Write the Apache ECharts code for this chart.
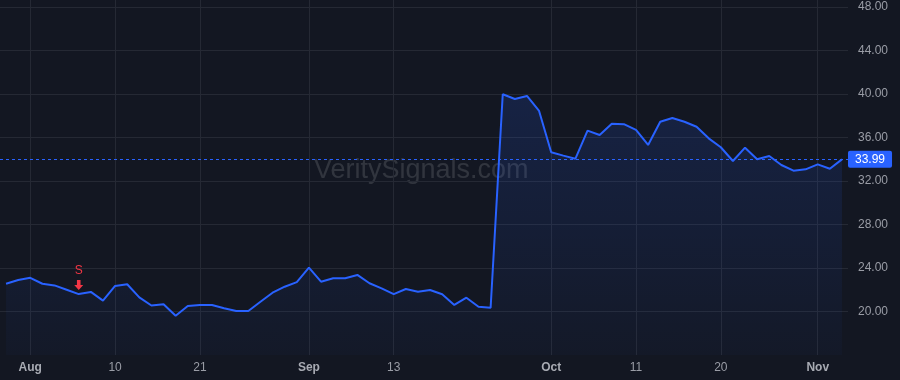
<!DOCTYPE html>
<html>
<head>
<meta charset="utf-8">
<script src="https://cdn.jsdelivr.net/npm/echarts@6/dist/echarts.min.js"></script>
<style>
  html, body { margin: 0; padding: 0; background: #131722; }
  #chart { width: 900px; height: 380px; }
</style>
</head>
<body>
<div id="chart"></div>
<script>
// ── Data ──
const dates = [
  '2023-07-28','2023-07-31',
  '2023-08-01','2023-08-02','2023-08-03','2023-08-04','2023-08-07','2023-08-08','2023-08-09','2023-08-10',
  '2023-08-11','2023-08-14','2023-08-15','2023-08-16','2023-08-17','2023-08-18','2023-08-21','2023-08-22',
  '2023-08-23','2023-08-24','2023-08-25','2023-08-28','2023-08-29','2023-08-30','2023-08-31',
  '2023-09-01','2023-09-05','2023-09-06','2023-09-07','2023-09-08','2023-09-11','2023-09-12','2023-09-13',
  '2023-09-14','2023-09-15','2023-09-18','2023-09-19','2023-09-20','2023-09-21','2023-09-22','2023-09-25',
  '2023-09-26','2023-09-27','2023-09-28','2023-09-29',
  '2023-10-02','2023-10-03','2023-10-04','2023-10-05','2023-10-06','2023-10-09','2023-10-10','2023-10-11',
  '2023-10-12','2023-10-13','2023-10-16','2023-10-17','2023-10-18','2023-10-19','2023-10-20','2023-10-23',
  '2023-10-24','2023-10-25','2023-10-26','2023-10-27','2023-10-30','2023-10-31',
  '2023-11-01','2023-11-02','2023-11-03'
];

const closes = [
  22.55, 22.90,
  23.10, 22.55, 22.40, 22.00, 21.60, 21.80, 21.00, 22.35,
  22.50, 21.30, 20.55, 20.66, 19.60, 20.50, 20.60, 20.60,
  20.30, 20.05, 20.05, 20.90, 21.73, 22.28, 22.70,
  24.03, 22.74, 23.05, 23.05, 23.36, 22.60, 22.13, 21.60,
  22.07, 21.82, 21.98, 21.58, 20.60, 21.27, 20.44, 20.35,
  39.97, 39.54, 39.82, 38.44,
  34.64, 34.33, 34.05, 36.63, 36.23, 37.27, 37.22, 36.69,
  35.31, 37.45, 37.79, 37.45, 36.99, 35.92, 35.10, 33.84,
  35.06, 33.99, 34.30, 33.47, 32.95, 33.07,
  33.53, 33.13, 33.99
];

const tickDates  = ['2023-08-01','2023-08-10','2023-08-21','2023-09-01','2023-09-13','2023-10-02','2023-10-11','2023-10-20','2023-11-01'];
const tickLabels = ['Aug','10','21','Sep','13','Oct','11','20','Nov'];
const monthTicks = ['Aug','Sep','Oct','Nov'];

const signalDates  = ['2023-08-07'];
const signalLabels = ['S'];

const lastPrice = 33.99;
const yTicks = { min: 16, max: 48.64, interval: 4 };

// ── Helpers ──
const tickIdx = new Set(tickDates.map(d => dates.indexOf(d)));
const tickLabelAt = {};
tickDates.forEach((d, i) => { tickLabelAt[d] = tickLabels[i]; });

const FONT = '"Liberation Sans", Arial, sans-serif';
const LINE = '#2962ff';
const GRID = '#252934';

const chart = echarts.init(document.getElementById('chart'), null, { renderer: 'canvas' });

const signalPoints = signalDates.map((d, i) => ({
  coord: [d, closes[dates.indexOf(d)]],
  label: { formatter: signalLabels[i] },
}));

const option = {
  backgroundColor: '#131722',
  animation: false,
  grid: { left: 0, right: 52, top: 0, bottom: 25 },
  // watermark
  graphic: [{
    type: 'text', left: 314, top: 157, z: 0,
    style: {
      text: 'VeritySignals.com', fill: 'rgba(255,255,255,0.13)',
      font: '27px ' + FONT,
    },
  }],
  xAxis: {
    type: 'category', data: dates, boundaryGap: true,
    axisLine: { show: false }, axisTick: { show: false, alignWithLabel: true },
    splitLine: {
      show: true, alignWithLabel: true,
      interval: (i) => tickIdx.has(i),
      lineStyle: { color: GRID, width: 1 },
    },
    axisLabel: {
      interval: (i) => tickIdx.has(i),
      margin: 7, fontSize: 12, fontFamily: FONT, color: '#9a9da6',
      formatter: (v) => {
        const t = tickLabelAt[v] || '';
        return monthTicks.includes(t) ? `{m|${t}}` : t;
      },
      rich: { m: { fontWeight: 'bold', fontSize: 12, fontFamily: FONT, color: '#a8abb3' } },
    },
  },
  yAxis: {
    type: 'value', position: 'right',
    min: yTicks.min, max: yTicks.max, interval: yTicks.interval,
    axisLine: { show: false }, axisTick: { show: false },
    splitLine: { show: true, showMinLine: false, showMaxLine: false, lineStyle: { color: GRID, width: 1 } },
    axisLabel: {
      showMinLabel: false, showMaxLabel: false,
      margin: 10, fontSize: 12, fontFamily: FONT, color: '#9a9da6',
      formatter: (v) => v.toFixed(2),
    },
  },
  series: [{
    type: 'line', data: closes, symbol: 'none', smooth: false, z: 3,
    lineStyle: { color: LINE, width: 2 },
    areaStyle: {
      origin: 'start',
      color: new echarts.graphic.LinearGradient(0, 0, 0, 1, [
        { offset: 0, color: 'rgba(41,98,255,0.22)' },
        { offset: 1, color: 'rgba(41,98,255,0.04)' },
      ]),
    },
    // last price line + tag
    markLine: {
      silent: true, symbol: 'none', precision: 2,
      lineStyle: { color: LINE, type: [3, 3], width: 1, opacity: 1 },
      emphasis: { disabled: true },
      label: {
        position: 'end', distance: 0, formatter: lastPrice.toFixed(2),
        backgroundColor: LINE, color: '#ffffff', fontSize: 12, fontFamily: FONT,
        padding: [3, 7, 2, 7], borderRadius: 2,
      },
      data: [{ yAxis: lastPrice }],
    },
    // signal marker
    markPoint: {
      symbol: 'path://M3,0 L7,0 L7,5 L10,5 L5,10 L0,5 L3,5 Z',
      symbolSize: [9, 10], symbolOffset: [0, -9],
      itemStyle: { color: '#f23645' },
      label: {
        show: true, position: 'top', distance: 3,
        color: '#f23645', fontSize: 12, fontFamily: FONT,
      },
      data: signalPoints,
    },
  }],
};

chart.setOption(option);
</script>
</body>
</html>
